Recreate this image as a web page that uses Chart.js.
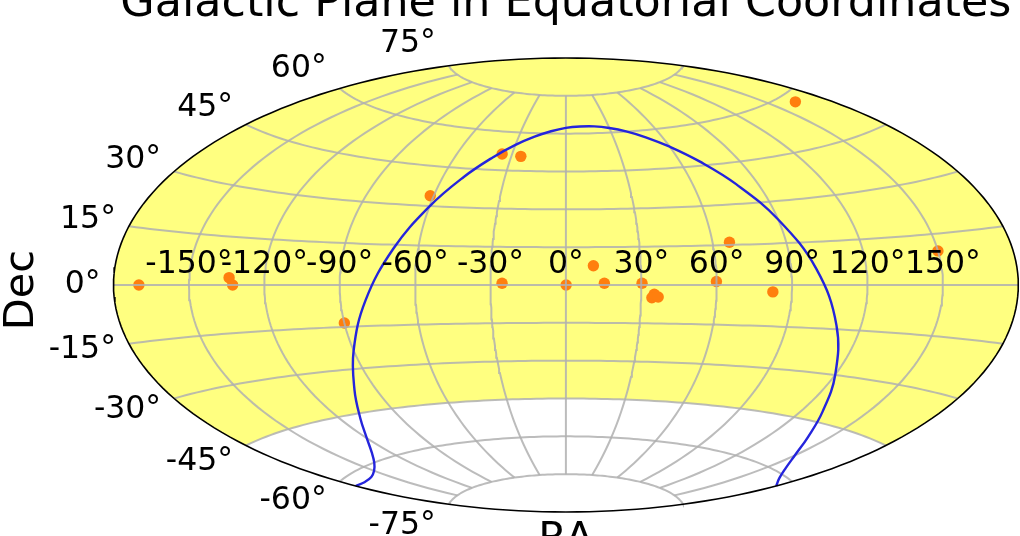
<!DOCTYPE html>
<html>
<head>
<meta charset="utf-8">
<script src="https://cdn.jsdelivr.net/npm/chart.js@4"></script>
<style>
    html, body { margin: 0; padding: 0; background: #fff; overflow: hidden; }
    canvas { display: block; }
</style>
</head>
<body>
<canvas id="skyChart" width="1024" height="536"></canvas>
<script>
// values, degrees
const sourceRa = [164.2, -35.5, -24.8, -61.6, 66.9, 150.0, 11.0, -169.9, -134.1, -132.6, -90.0, -25.4, 0.1, 15.3, 30.3, 59.9, 35.2, 34.3, 36.8, 82.4];
const sourceDec = [57.6, 51.3, 50.7, 33.9, 16.0, 10.0, 7.6, 0.0, 2.3, 0.0, -13.6, 0.7, 0.0, 0.7, 0.7, 1.3, -3.6, -5.0, -4.7, -2.5];

const planeRa = [-180, -170, -160, -150, -140, -130, -120, -110, -100, -90, -80, -70, -60, -50, -40, -30, -20, -10, 0, 10, 20, 30, 40, 50, 60, 70, 80, 90, 100, 110, 120, 130, 140, 150, 160, 170, 180];
const planeDec = [-62.3, -62.8, -62.7, -61.8, -60.1, -57.3, -53.0, -46.6, -37.2, -23.5, -5.6, 13.6, 29.9, 41.7, 49.7, 55.1, 58.6, 60.9, 62.3, 62.8, 62.7, 61.8, 60.1, 57.3, 53.0, 46.6, 37.2, 23.5, 5.6, -13.6, -29.9, -41.7, -49.7, -55.1, -58.6, -60.9, -62.3];

const raTicks = [-150, -120, -90, -60, -30, 0, 30, 60, 90, 120, 150];
const decTicks = [-75, -60, -45, -30, -15, 0, 15, 30, 45, 60, 75];
const surveyLimitDec = -45;

const titleText = 'Galactic Plane in Equatorial Coordinates';
const xLabel = 'RA';
const yLabel = 'Dec';

const FONT = '"DejaVu Sans"';
const RAD = Math.PI / 180;

// aitoff projection, result in degrees so x runs -180..180 and y -90..90
function aitoff(ra, dec) {
    const alpha = Math.acos(Math.cos(dec * RAD) * Math.cos(ra * RAD / 2));
    const sinc = alpha < 1e-9 ? 1 : Math.sin(alpha) / alpha;
    return {
        x: 2 * Math.cos(dec * RAD) * Math.sin(ra * RAD / 2) / sinc / RAD,
        y: Math.sin(dec * RAD) / sinc / RAD
    };
}

function parallel(dec) {
    const out = [];
    for (let ra = -180; ra <= 180; ra += 3) out.push(aitoff(ra, dec));
    return out;
}

function meridian(ra, from, to) {
    const out = [];
    const step = from < to ? 1.5 : -1.5;
    for (let dec = from; step > 0 ? dec <= to : dec >= to; dec += step) out.push(aitoff(ra, dec));
    return out;
}

function lineSet(data, color, width, order, extra) {
    return Object.assign({
        type: 'scatter', data: data, showLine: true, pointRadius: 0, borderColor: color,
        borderWidth: width, fill: false, order: order, clip: false
    }, extra || {});
}

const datasets = [];

// yellow sky above the survey limit
datasets.push(lineSet(
    parallel(surveyLimitDec).concat(meridian(180, surveyLimitDec, 90), meridian(-180, 90, surveyLimitDec)),
    'rgba(0,0,0,0)', 0, 6, { fill: 'shape', backgroundColor: '#ffff80' }
));

// sources sit under the grid
datasets.push({
    type: 'scatter',
    data: sourceRa.map((ra, i) => aitoff(ra, sourceDec[i])),
    pointRadius: 5.7,
    pointBorderWidth: 0,
    backgroundColor: '#ff7f0e',
    order: 5
});

const gridColor = 'rgba(176,176,176,0.85)';
decTicks.forEach(dec => datasets.push(lineSet(parallel(dec), gridColor, 2, 4)));
raTicks.forEach(ra => datasets.push(lineSet(meridian(ra, -75, 75), gridColor, 2, 4)));

datasets.push(lineSet(
    planeRa.map((ra, i) => aitoff(ra, planeDec[i])),
    '#2424dc', 2.4, 2, { tension: 0.4 }
));

// sky outline
datasets.push(lineSet(meridian(180, -90, 90).concat(meridian(-180, 90, -90)), '#000', 1.6, 1));

const textPlugin = {
    id: 'skyText',
    afterDraw(chart) {
        const { ctx, scales: { x, y } } = chart;
        ctx.save();
        ctx.fillStyle = '#000';

        ctx.font = `31.5px ${FONT}`;
        ctx.textBaseline = 'alphabetic';
        ctx.textAlign = 'center';
        raTicks.forEach(ra => {
            ctx.fillText(`${ra}°`, x.getPixelForValue(aitoff(ra, 0).x), y.getPixelForValue(0) - 12);
        });

        // dec labels hang off the outline, stretched 1.1 in y like the geo axes do
        ctx.textAlign = 'right';
        decTicks.forEach(dec => {
            const p = aitoff(-180, dec);
            ctx.fillText(`${dec}°`, x.getPixelForValue(p.x) - 13, y.getPixelForValue(p.y * 1.1) + 8);
        });

        ctx.font = `44.4px ${FONT}`;
        ctx.textAlign = 'center';
        ctx.fillText(titleText, x.getPixelForValue(0), 16);

        ctx.font = `41.5px ${FONT}`;
        ctx.fillText(xLabel, x.getPixelForValue(0), 551);

        ctx.translate(33, y.getPixelForValue(0) + 5);
        ctx.rotate(-Math.PI / 2);
        ctx.fillText(yLabel, 0, 0);
        ctx.restore();
    }
};

new Chart(document.getElementById('skyChart').getContext('2d'), {
    data: { datasets: datasets },
    options: {
        responsive: false,
        animation: false,
        layout: { padding: { left: 113.5, right: 1, top: 58, bottom: 24 } },
        plugins: { legend: { display: false }, title: { display: false }, tooltip: { enabled: false } },
        scales: {
            x: { type: 'linear', min: -180, max: 180, display: false },
            y: { type: 'linear', min: -90, max: 90, display: false }
        }
    },
    plugins: [textPlugin]
});
</script>
</body>
</html>
